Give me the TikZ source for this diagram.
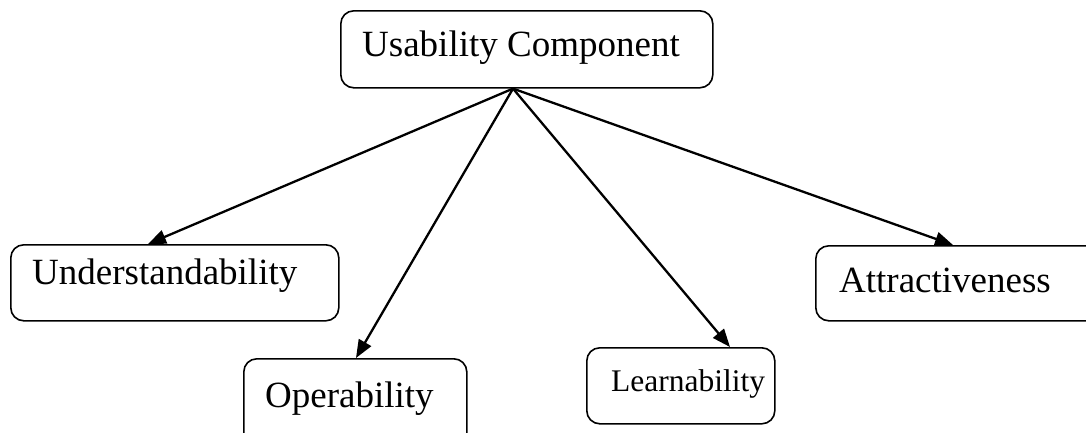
\documentclass[tikz,border=0pt]{standalone}
\usepackage{fontspec}
\setmainfont{Liberation Serif}
\usetikzlibrary{arrows.meta}
\tikzset{
  box/.style={draw, rounded corners=13pt, line width=1.6pt, anchor=north west, inner sep=0pt},
  lbl/.style={anchor=base west, inner sep=0pt, font=\fontsize{37}{44}\selectfont},
  lblsmall/.style={anchor=base west, inner sep=0pt, font=\fontsize{31.5}{38}\selectfont},
  conn/.style={line width=2.3pt, -{Triangle[length=18pt,width=14pt]}}
}
\begin{document}
\begin{tikzpicture}[x=1pt,y=1pt]
\useasboundingbox (0,0) rectangle (1086,-432);
\clip (0,0) rectangle (1086,-432);
% boxes
\node[box, minimum width=372pt, minimum height=77pt] (topbox) at (340,-10) {};
\node[box, minimum width=328pt, minimum height=76pt] (ubox) at (10,-244) {};
\node[box, minimum width=223pt, minimum height=90pt] (obox) at (243,-358) {};
\node[box, minimum width=188pt, minimum height=76pt] (lbox) at (586,-347) {};
\node[box, minimum width=300pt, minimum height=75pt] (abox) at (815,-245) {};
% labels
\node[lbl] (toplbl) at (362,-56) {Usability Component};
\node[lbl] (ulbl) at (32,-284) {Understandability};
\node[lbl] (olbl) at (265,-407) {Operability};
\node[lblsmall] (llbl) at (611,-391) {Learnability};
\node[lbl] (albl) at (839,-292) {Attractiveness};
% connectors
\coordinate (hub) at ([xshift=173pt]topbox.south west);
\draw[conn] (hub) -- ([xshift=138pt]ubox.north west);
\draw[conn] (hub) -- ([xshift=113pt]obox.north west);
\draw[conn] (hub) -- ([xshift=144pt]lbox.north west);
\draw[conn] (hub) -- ([xshift=138pt]abox.north west);
\end{tikzpicture}
\end{document}
